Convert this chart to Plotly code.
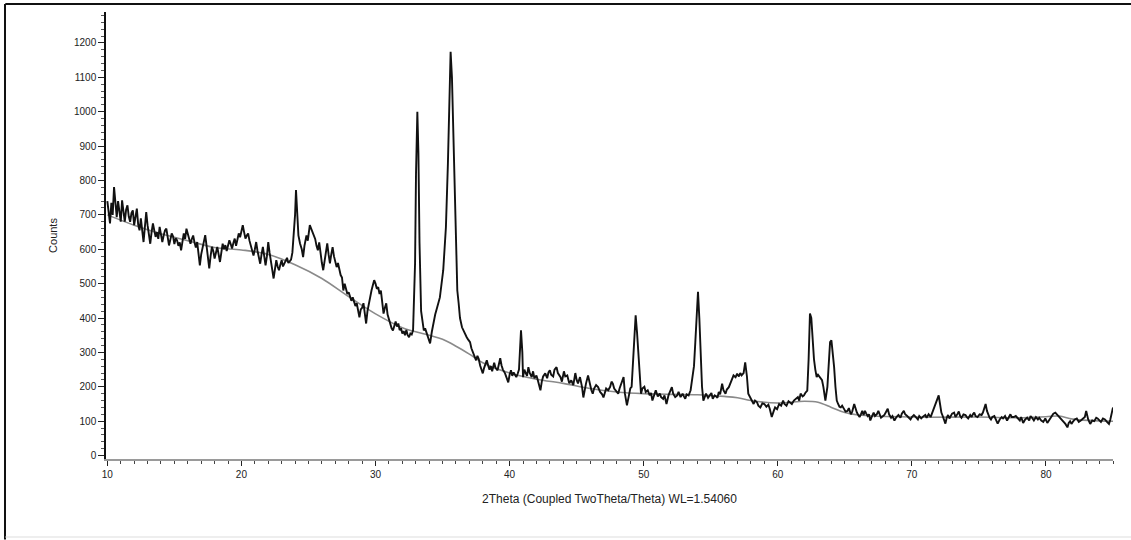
import plotly.graph_objects as go

# Observed XRD pattern, (2theta [deg], counts) by region
region_10_24 = [
    (10.0, 740), (10.1, 700), (10.2, 675), (10.3, 735), (10.4, 700), (10.5, 781), (10.6, 720), (10.7, 693),
    (10.8, 740), (10.9, 713), (11.0, 680), (11.1, 742), (11.2, 700), (11.3, 680), (11.4, 715), (11.5, 728),
    (11.6, 695), (11.7, 680), (11.8, 705), (11.9, 713), (12.0, 670), (12.1, 700), (12.2, 718), (12.3, 672),
    (12.4, 655), (12.5, 690), (12.6, 660), (12.7, 621), (12.8, 665), (12.9, 708), (13.0, 670), (13.1, 640),
    (13.2, 616), (13.3, 650), (13.4, 675), (13.5, 655), (13.6, 636), (13.7, 650), (13.8, 630), (13.9, 665),
    (14.0, 645), (14.1, 621), (14.2, 640), (14.3, 655), (14.4, 660), (14.5, 630), (14.6, 611), (14.7, 628),
    (14.8, 646), (14.9, 638), (15.0, 615), (15.1, 632), (15.2, 626), (15.3, 610), (15.4, 620), (15.5, 597),
    (15.6, 618), (15.7, 646), (15.8, 630), (15.9, 660), (16.0, 645), (16.1, 625), (16.2, 616), (16.3, 630),
    (16.4, 640), (16.5, 620), (16.6, 605), (16.7, 621), (16.8, 590), (16.9, 553), (17.0, 585), (17.1, 607),
    (17.2, 620), (17.3, 641), (17.4, 610), (17.5, 575), (17.6, 544), (17.7, 580), (17.8, 607), (17.9, 595),
    (18.0, 573), (18.1, 590), (18.2, 607), (18.3, 585), (18.4, 563), (18.5, 590), (18.6, 616), (18.7, 600),
    (18.8, 612), (18.9, 595), (19.0, 610), (19.1, 626), (19.2, 615), (19.3, 602), (19.4, 618), (19.5, 631),
    (19.6, 610), (19.7, 625), (19.8, 646), (19.9, 635), (20.0, 655), (20.1, 670), (20.2, 650), (20.3, 631),
    (20.4, 640), (20.5, 646), (20.6, 625), (20.7, 611), (20.8, 600), (20.9, 582), (21.0, 600), (21.1, 621),
    (21.2, 595), (21.3, 575), (21.4, 558), (21.5, 585), (21.6, 607), (21.7, 580), (21.8, 553), (21.9, 580),
    (22.0, 621), (22.1, 590), (22.2, 558), (22.3, 540), (22.4, 515), (22.5, 545), (22.6, 568), (22.7, 550),
    (22.8, 539), (22.9, 555), (23.0, 568), (23.1, 550), (23.2, 560), (23.3, 568), (23.4, 575), (23.5, 560),
    (23.6, 566), (23.7, 570), (23.8, 590), (23.9, 646),
]
region_24_37 = [
    (24.0, 700), (24.07, 772), (24.15, 700), (24.25, 640), (24.37, 617), (24.5, 600), (24.6, 577), (24.7, 610),
    (24.85, 640), (24.95, 625), (25.1, 670), (25.2, 660), (25.3, 655), (25.4, 640), (25.5, 630), (25.6, 610),
    (25.7, 597), (25.8, 620), (25.9, 580), (26.0, 560), (26.1, 539), (26.2, 570), (26.3, 600), (26.4, 617),
    (26.5, 585), (26.6, 559), (26.7, 585), (26.8, 606), (26.9, 580), (27.0, 560), (27.1, 548), (27.2, 560),
    (27.3, 540), (27.4, 525), (27.5, 518), (27.6, 480), (27.7, 500), (27.8, 485), (27.9, 470), (28.0, 475),
    (28.1, 461), (28.2, 450), (28.3, 460), (28.4, 450), (28.5, 435), (28.6, 443), (28.7, 420), (28.8, 402),
    (28.9, 425), (29.0, 430), (29.1, 443), (29.2, 410), (29.3, 384), (29.4, 420), (29.5, 443), (29.6, 460),
    (29.7, 480), (29.8, 495), (29.9, 510), (30.0, 500), (30.1, 485), (30.2, 490), (30.3, 470), (30.4, 480),
    (30.5, 440), (30.6, 413), (30.7, 430), (30.8, 443), (30.9, 410), (31.0, 395), (31.1, 384), (31.2, 370),
    (31.3, 364), (31.4, 380), (31.5, 390), (31.6, 375), (31.7, 384), (31.8, 365), (31.9, 370), (32.0, 355),
    (32.1, 362), (32.2, 350), (32.3, 365), (32.4, 350), (32.5, 344), (32.6, 355), (32.7, 352), (32.8, 364),
    (32.95, 560), (33.02, 820), (33.12, 1000), (33.2, 880), (33.28, 620), (33.4, 420), (33.5, 384), (33.6, 364),
    (33.7, 370), (33.84, 355), (33.95, 345), (34.07, 326), (34.2, 360), (34.3, 384), (34.45, 410), (34.6, 431),
    (34.8, 460), (35.05, 539), (35.25, 664), (35.4, 850), (35.52, 1100), (35.6, 1174), (35.7, 1100), (35.8, 947),
    (35.9, 750), (36.0, 559), (36.1, 480), (36.2, 443), (36.3, 400), (36.45, 373), (36.6, 360), (36.7, 350),
    (36.8, 344), (36.9, 338),
]
region_37_50 = [
    (37.05, 330), (37.15, 312), (37.3, 297), (37.4, 285), (37.5, 277), (37.6, 290), (37.7, 281), (37.8, 262),
    (37.9, 250), (38.0, 239), (38.1, 255), (38.2, 265), (38.3, 277), (38.4, 262), (38.5, 250), (38.6, 260),
    (38.7, 245), (38.85, 270), (38.95, 255), (39.1, 248), (39.2, 265), (39.3, 283), (39.4, 262), (39.5, 250),
    (39.66, 239), (39.8, 225), (39.9, 213), (40.0, 235), (40.1, 248), (40.2, 232), (40.3, 242), (40.4, 235),
    (40.5, 228), (40.6, 238), (40.7, 250), (40.85, 364), (40.95, 300), (41.0, 228), (41.1, 250), (41.2, 240),
    (41.3, 232), (41.4, 257), (41.5, 240), (41.65, 228), (41.75, 245), (41.85, 225), (42.0, 233), (42.1, 220),
    (42.2, 205), (42.3, 190), (42.4, 215), (42.5, 230), (42.66, 239), (42.8, 225), (42.9, 242), (43.0, 248),
    (43.1, 235), (43.25, 230), (43.35, 250), (43.5, 257), (43.6, 240), (43.7, 232), (43.8, 228), (43.9, 215),
    (44.05, 245), (44.15, 230), (44.3, 233), (44.45, 210), (44.6, 219), (44.75, 205), (44.9, 240), (45.0, 220),
    (45.1, 210), (45.25, 228), (45.4, 200), (45.5, 169), (45.6, 195), (45.7, 210), (45.85, 233), (46.0, 200),
    (46.1, 190), (46.2, 180), (46.3, 195), (46.45, 205), (46.6, 199), (46.75, 185), (46.9, 178), (47.0, 169),
    (47.1, 185), (47.2, 195), (47.35, 190), (47.5, 200), (47.6, 215), (47.7, 209), (47.8, 195), (47.95, 188),
    (48.1, 180), (48.2, 195), (48.35, 210), (48.5, 228), (48.6, 180), (48.75, 146), (48.9, 175), (49.0, 195),
    (49.1, 200), (49.2, 260), (49.3, 330), (49.4, 408), (49.5, 360), (49.6, 300), (49.7, 220), (49.8, 180),
    (49.9, 195),
]
region_50_65 = [
    (50.05, 200), (50.15, 185), (50.3, 190), (50.45, 175), (50.55, 182), (50.65, 160), (50.8, 178), (50.9, 190),
    (51.05, 172), (51.2, 180), (51.3, 170), (51.45, 165), (51.55, 175), (51.7, 150), (51.85, 175), (52.0, 190),
    (52.1, 199), (52.2, 180), (52.35, 170), (52.5, 175), (52.6, 185), (52.75, 170), (52.9, 180), (53.0, 172),
    (53.1, 165), (53.2, 178), (53.35, 175), (53.5, 190), (53.6, 215), (53.75, 260), (53.85, 330), (53.95, 420),
    (54.05, 476), (54.15, 400), (54.25, 300), (54.35, 200), (54.45, 160), (54.55, 172), (54.65, 180), (54.8, 168),
    (54.95, 175), (55.05, 182), (55.15, 165), (55.3, 175), (55.4, 172), (55.5, 168), (55.6, 185), (55.7, 178),
    (55.85, 209), (55.95, 190), (56.1, 180), (56.2, 192), (56.35, 199), (56.5, 215), (56.6, 225), (56.7, 233),
    (56.85, 228), (56.97, 238), (57.1, 230), (57.2, 240), (57.3, 233), (57.45, 240), (57.57, 271), (57.7, 230),
    (57.8, 180), (57.9, 172), (58.0, 165), (58.1, 158), (58.2, 150), (58.3, 160), (58.45, 155), (58.55, 145),
    (58.7, 140), (58.85, 152), (59.0, 150), (59.15, 142), (59.3, 148), (59.4, 136), (59.55, 112), (59.7, 130),
    (59.8, 140), (59.95, 135), (60.1, 150), (60.25, 145), (60.4, 160), (60.5, 150), (60.65, 145), (60.8, 158),
    (60.9, 155), (61.05, 150), (61.2, 160), (61.35, 165), (61.5, 170), (61.6, 160), (61.7, 180), (61.85, 172),
    (61.95, 175), (62.05, 182), (62.2, 189), (62.3, 280), (62.4, 413), (62.5, 400), (62.6, 335), (62.7, 280),
    (62.8, 250), (62.9, 228), (63.0, 235), (63.1, 230), (63.2, 225), (63.3, 219), (63.4, 200), (63.55, 160),
    (63.7, 200), (63.8, 258), (63.9, 330), (64.0, 335), (64.1, 300), (64.2, 258), (64.3, 200), (64.4, 160),
    (64.5, 150), (64.6, 142), (64.7, 140), (64.8, 145), (64.95, 135),
]
region_65_85 = [
    (65.05, 128), (65.2, 130), (65.3, 138), (65.45, 120), (65.55, 128), (65.7, 150), (65.8, 135), (65.9, 125),
    (66.0, 118), (66.1, 112), (66.2, 120), (66.3, 130), (66.4, 118), (66.5, 130), (66.6, 122), (66.7, 115),
    (66.8, 120), (66.9, 102), (67.0, 112), (67.15, 125), (67.25, 115), (67.4, 121), (67.5, 130), (67.6, 118),
    (67.7, 110), (67.85, 115), (67.95, 118), (68.05, 125), (68.2, 136), (68.3, 120), (68.45, 110), (68.55, 115),
    (68.7, 102), (68.85, 112), (69.0, 118), (69.15, 110), (69.25, 122), (69.4, 130), (69.5, 120), (69.65, 115),
    (69.75, 110), (69.9, 105), (70.0, 112), (70.15, 118), (70.3, 112), (70.45, 105), (70.55, 115), (70.7, 108),
    (70.85, 114), (71.0, 118), (71.1, 110), (71.25, 120), (71.4, 112), (71.5, 122), (71.6, 130), (71.7, 140),
    (71.8, 150), (71.9, 165), (72.0, 175), (72.1, 150), (72.2, 125), (72.3, 115), (72.4, 105), (72.5, 93),
    (72.6, 110), (72.7, 118), (72.8, 108), (72.9, 115), (73.0, 122), (73.15, 125), (73.25, 112), (73.4, 121),
    (73.5, 128), (73.6, 115), (73.7, 110), (73.85, 120), (74.0, 118), (74.1, 112), (74.2, 108), (74.35, 118),
    (74.45, 112), (74.55, 120), (74.65, 125), (74.75, 115), (74.9, 112), (75.05, 120), (75.2, 118), (75.3, 125),
    (75.4, 135), (75.5, 150), (75.6, 130), (75.7, 118), (75.8, 110), (75.9, 105), (76.0, 112), (76.15, 115),
    (76.3, 102), (76.4, 93), (76.55, 105), (76.7, 112), (76.8, 108), (76.95, 115), (77.1, 102), (77.2, 110),
    (77.35, 120), (77.45, 112), (77.6, 112), (77.75, 115), (77.9, 108), (78.05, 102), (78.15, 112), (78.3, 95),
    (78.45, 105), (78.6, 110), (78.75, 102), (78.85, 115), (79.0, 108), (79.1, 102), (79.25, 112), (79.4, 105),
    (79.5, 110), (79.65, 102), (79.8, 98), (79.95, 108), (80.1, 95), (80.25, 105), (80.4, 115), (80.55, 122),
    (80.7, 125), (80.85, 118), (81.0, 112), (81.15, 105), (81.3, 100), (81.45, 92), (81.6, 82), (81.7, 95),
    (81.8, 100), (81.9, 92), (82.0, 98), (82.15, 105), (82.3, 108), (82.45, 98), (82.6, 102), (82.75, 108),
    (82.9, 112), (83.0, 130), (83.1, 115), (83.15, 105), (83.3, 92), (83.45, 102), (83.6, 100), (83.75, 110),
    (83.85, 108), (84.0, 100), (84.1, 98), (84.25, 108), (84.4, 105), (84.55, 98), (84.7, 92), (84.8, 105),
    (84.9, 120), (85.0, 140),
]

# Fitted background curve
bg_theta = [10, 12, 14, 16, 18, 20, 22, 24, 26, 28, 30, 32, 34, 35, 36, 37, 38, 40, 42, 44, 46, 48, 50,
            52, 54, 56, 57, 58, 60, 62, 63, 64, 65, 66, 70, 75, 78, 80, 81, 82, 85]
bg_counts = [700, 670, 645, 625, 605, 598, 585, 555, 515, 462, 412, 372, 350, 338, 318, 295, 270, 240, 222,
             210, 195, 185, 180, 178, 177, 172, 168, 160, 153, 158, 155, 140, 125, 118, 112, 112, 110, 113,
             115, 106, 100]

x_ticks = [10, 20, 30, 40, 50, 60, 70, 80]
y_ticks = [0, 100, 200, 300, 400, 500, 600, 700, 800, 900, 1000, 1100, 1200]

pattern = region_10_24 + region_24_37 + region_37_50 + region_50_65 + region_65_85
two_theta = [p[0] for p in pattern]
counts = [p[1] for p in pattern]

fig = go.Figure()
fig.add_trace(go.Scatter(x=bg_theta, y=bg_counts, mode="lines",
                         line=dict(color="#8a8a8a", width=1.6, shape="spline"),
                         hoverinfo="skip", showlegend=False))
fig.add_trace(go.Scatter(x=two_theta, y=counts, mode="lines",
                         line=dict(color="#111111", width=1.9),
                         showlegend=False))

axis_font = dict(family="Liberation Sans, Arial, sans-serif", size=10, color="#222222")

fig.update_layout(
    width=1131, height=540,
    margin=dict(l=106, r=18, t=12, b=81),
    paper_bgcolor="white", plot_bgcolor="white",
    font=axis_font,
    xaxis=dict(
        range=[9.9, 85.0], tickvals=x_ticks, ticktext=[str(v) for v in x_ticks],
        ticks="outside", ticklen=5, tickwidth=1, tickcolor="#222",
        minor=dict(dtick=1, tick0=10, ticks="outside", ticklen=3, tickcolor="#444"),
        showline=True, linecolor="#9a9a9a", linewidth=2,
        showgrid=False, zeroline=False, tickfont=axis_font,
        title=dict(text="2Theta (Coupled TwoTheta/Theta) WL=1.54060",
                   font=dict(family="Liberation Sans, Arial, sans-serif", size=12, color="#222"),
                   standoff=16),
    ),
    yaxis=dict(
        range=[-10, 1290], tickvals=y_ticks, ticktext=[str(v) for v in y_ticks],
        ticks="outside", ticklen=6, tickwidth=1, tickcolor="#222",
        minor=dict(dtick=20, tick0=0, ticks="outside", ticklen=3, tickcolor="#555"),
        showline=True, linecolor="#111", linewidth=1.5,
        showgrid=False, zeroline=False, tickfont=axis_font,
        title=dict(text="Counts",
                   font=dict(family="Liberation Sans, Arial, sans-serif", size=11, color="#222"),
                   standoff=14),
    ),
)

# Image frame: top and left black lines, faint bottom line
fig.add_shape(type="line", xref="paper", yref="paper", x0=-0.1, x1=1.03, y0=1.018, y1=1.018,
              line=dict(color="#111", width=2))
fig.add_shape(type="line", xref="paper", yref="paper", x0=-0.1003, x1=-0.1003, y0=1.018, y1=-0.18,
              line=dict(color="#111", width=2))
fig.add_shape(type="line", xref="paper", yref="paper", x0=-0.1, x1=1.03, y0=-0.1745, y1=-0.1745,
              line=dict(color="#dddddd", width=1))

fig.write_html("out.html", config={"displayModeBar": False},
               post_script="document.body.style.margin='0';")
